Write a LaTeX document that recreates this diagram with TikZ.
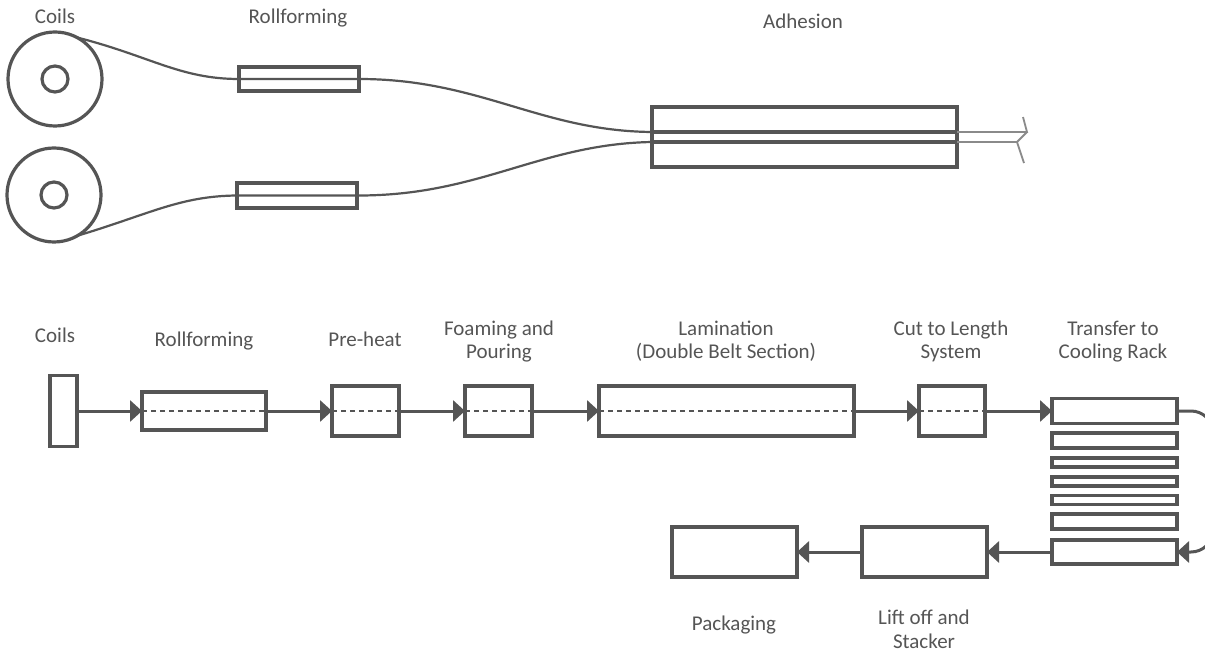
\documentclass[tikz,border=0pt]{standalone}
\usepackage{fontspec}
\setmainfont{Carlito}
\usetikzlibrary{arrows.meta,calc}
\definecolor{ink}{HTML}{555555}
\definecolor{thin}{HTML}{8A8A8A}
\begin{document}
\begin{tikzpicture}[x=1pt,y=-1pt,
  box/.style={draw=ink,line width=3.2pt,rectangle,inner sep=0pt,outer sep=0pt,fill=white},
  coil/.style={draw=ink,line width=3.2pt,circle,inner sep=0pt,outer sep=0pt},
  strip/.style={draw=ink,line width=2.2pt},
  belt/.style={draw=ink,line width=3.2pt},
  tail/.style={draw=thin,line width=1.8pt},
  flow/.style={draw=ink,line width=3pt,-{Triangle[length=12pt,width=21pt]}},
  midline/.style={draw=ink,line width=2.6pt,dash pattern=on 5pt off 4pt},
  lbl/.style={text=ink,font=\fontsize{21}{24}\selectfont,align=center,inner sep=0pt,anchor=base}]
\clip (0,0) rectangle (1205,652);
\fill[white] (0,0) rectangle (1205,652);

% ---------- top: adhesion ----------
\node[lbl] (tcoils) at (55,24) {Coils};
\node[lbl] (trf) at (298,24) {Rollforming};
\node[lbl] (tadh) at (803,29) {Adhesion};

\node[coil,minimum size=94pt] (c1) at (55,79) {};
\node[coil,minimum size=26pt] (c1i) at (55,79) {};
\node[coil,minimum size=94pt] (c2) at (54,195) {};
\node[coil,minimum size=26pt] (c2i) at (54,195) {};

\node[box,minimum width=120pt,minimum height=24pt,fill=none] (rfA) at (299,79) {};
\node[box,minimum width=120pt,minimum height=25pt,fill=none] (rfB) at (297,195.5) {};
\node[box,minimum width=305pt,minimum height=60pt,fill=none] (adh) at (804.5,137) {};

\coordinate (aT) at (652,132);
\coordinate (aB) at (652,142);
\coordinate (aTr) at (957,132);
\coordinate (aBr) at (957,142);
\coordinate (eT) at (1027,132);
\coordinate (eB) at (1017,142);
\coordinate (eTu) at (1023,117);
\coordinate (eBd) at (1024,163);

\draw[strip] (c1.62) .. controls (150,56) and (180,79) .. (rfA.west) -- (rfA.east)
  .. controls (480,79) and (540,131) .. (aT);
\draw[strip] (c2.-60) .. controls (150,214) and (180,196) .. (rfB.west) -- (rfB.east)
  .. controls (480,196) and (540,144) .. (aB);
\draw[belt] (aT) -- (aTr);
\draw[belt] (aB) -- (aBr);
\draw[tail] (aTr) -- (eT) -- (eTu);
\draw[tail] (aBr) -- (eB) -- (eT);
\draw[tail] (eB) -- (eBd);

% ---------- bottom: production line ----------
\node[lbl] (lcoils) at (55,343) {Coils};
\node[lbl] (lrf) at (204,347) {Rollforming};
\node[lbl] (lph) at (365,347) {Pre-heat};
\node[lbl] (lfp) at (499,359) {Foaming and\\Pouring};
\node[lbl] (llam) at (726,359) {Lamination\\(Double Belt Section)};
\node[lbl] (lcut) at (951,359) {Cut to Length\\System};
\node[lbl] (ltr) at (1113,359) {Transfer to\\Cooling Rack};
\node[lbl] (lpack) at (734,630) {Packaging};
\node[lbl] (llift) at (924,648) {Lift off and\\Stacker};

\node[box,minimum width=27pt,minimum height=71pt] (bar) at (63.5,411) {};
\node[box,minimum width=124pt,minimum height=38pt] (rf) at (204,411) {};
\node[box,minimum width=67pt,minimum height=50pt] (ph) at (365.5,411) {};
\node[box,minimum width=67pt,minimum height=50pt] (fp) at (498.5,411) {};
\node[box,minimum width=255pt,minimum height=50pt] (lam) at (726.5,411) {};
\node[box,minimum width=66pt,minimum height=50pt] (cut) at (952,411) {};

\node[box,minimum width=125pt,minimum height=25pt] (r1) at (1114.5,411) {};
\node[box,minimum width=125pt,minimum height=15pt] (r2) at (1114.5,440.5) {};
\node[box,minimum width=125pt,minimum height=9pt] (r3) at (1114.5,462.5) {};
\node[box,minimum width=125pt,minimum height=9pt] (r4) at (1114.5,481.5) {};
\node[box,minimum width=125pt,minimum height=9pt] (r5) at (1114.5,500) {};
\node[box,minimum width=125pt,minimum height=15pt] (r6) at (1114.5,521.5) {};
\node[box,minimum width=125pt,minimum height=24pt] (r7) at (1114.5,552) {};

\node[box,minimum width=125pt,minimum height=50pt] (lift) at (924.5,552) {};
\node[box,minimum width=125pt,minimum height=50pt] (pack) at (734.5,552) {};

\foreach \n in {rf,ph,fp,lam,cut}{\draw[midline] (\n.west) -- (\n.east);}

\draw[flow] (bar.east) -- (rf.west);
\draw[flow] (rf.east) -- (ph.west);
\draw[flow] (ph.east) -- (fp.west);
\draw[flow] (fp.east) -- (lam.west);
\draw[flow] (lam.east) -- (cut.west);
\draw[flow] (cut.east) -- (r1.west);
\draw[flow] (r1.east) -- ++(14,0) to[out=0,in=90] ++(22,22) -- ++(0,97) to[out=-90,in=0] ++(-22,22) -- (r7.east);
\draw[flow] (r7.west) -- (lift.east);
\draw[flow] (lift.west) -- (pack.east);
\end{tikzpicture}
\end{document}
